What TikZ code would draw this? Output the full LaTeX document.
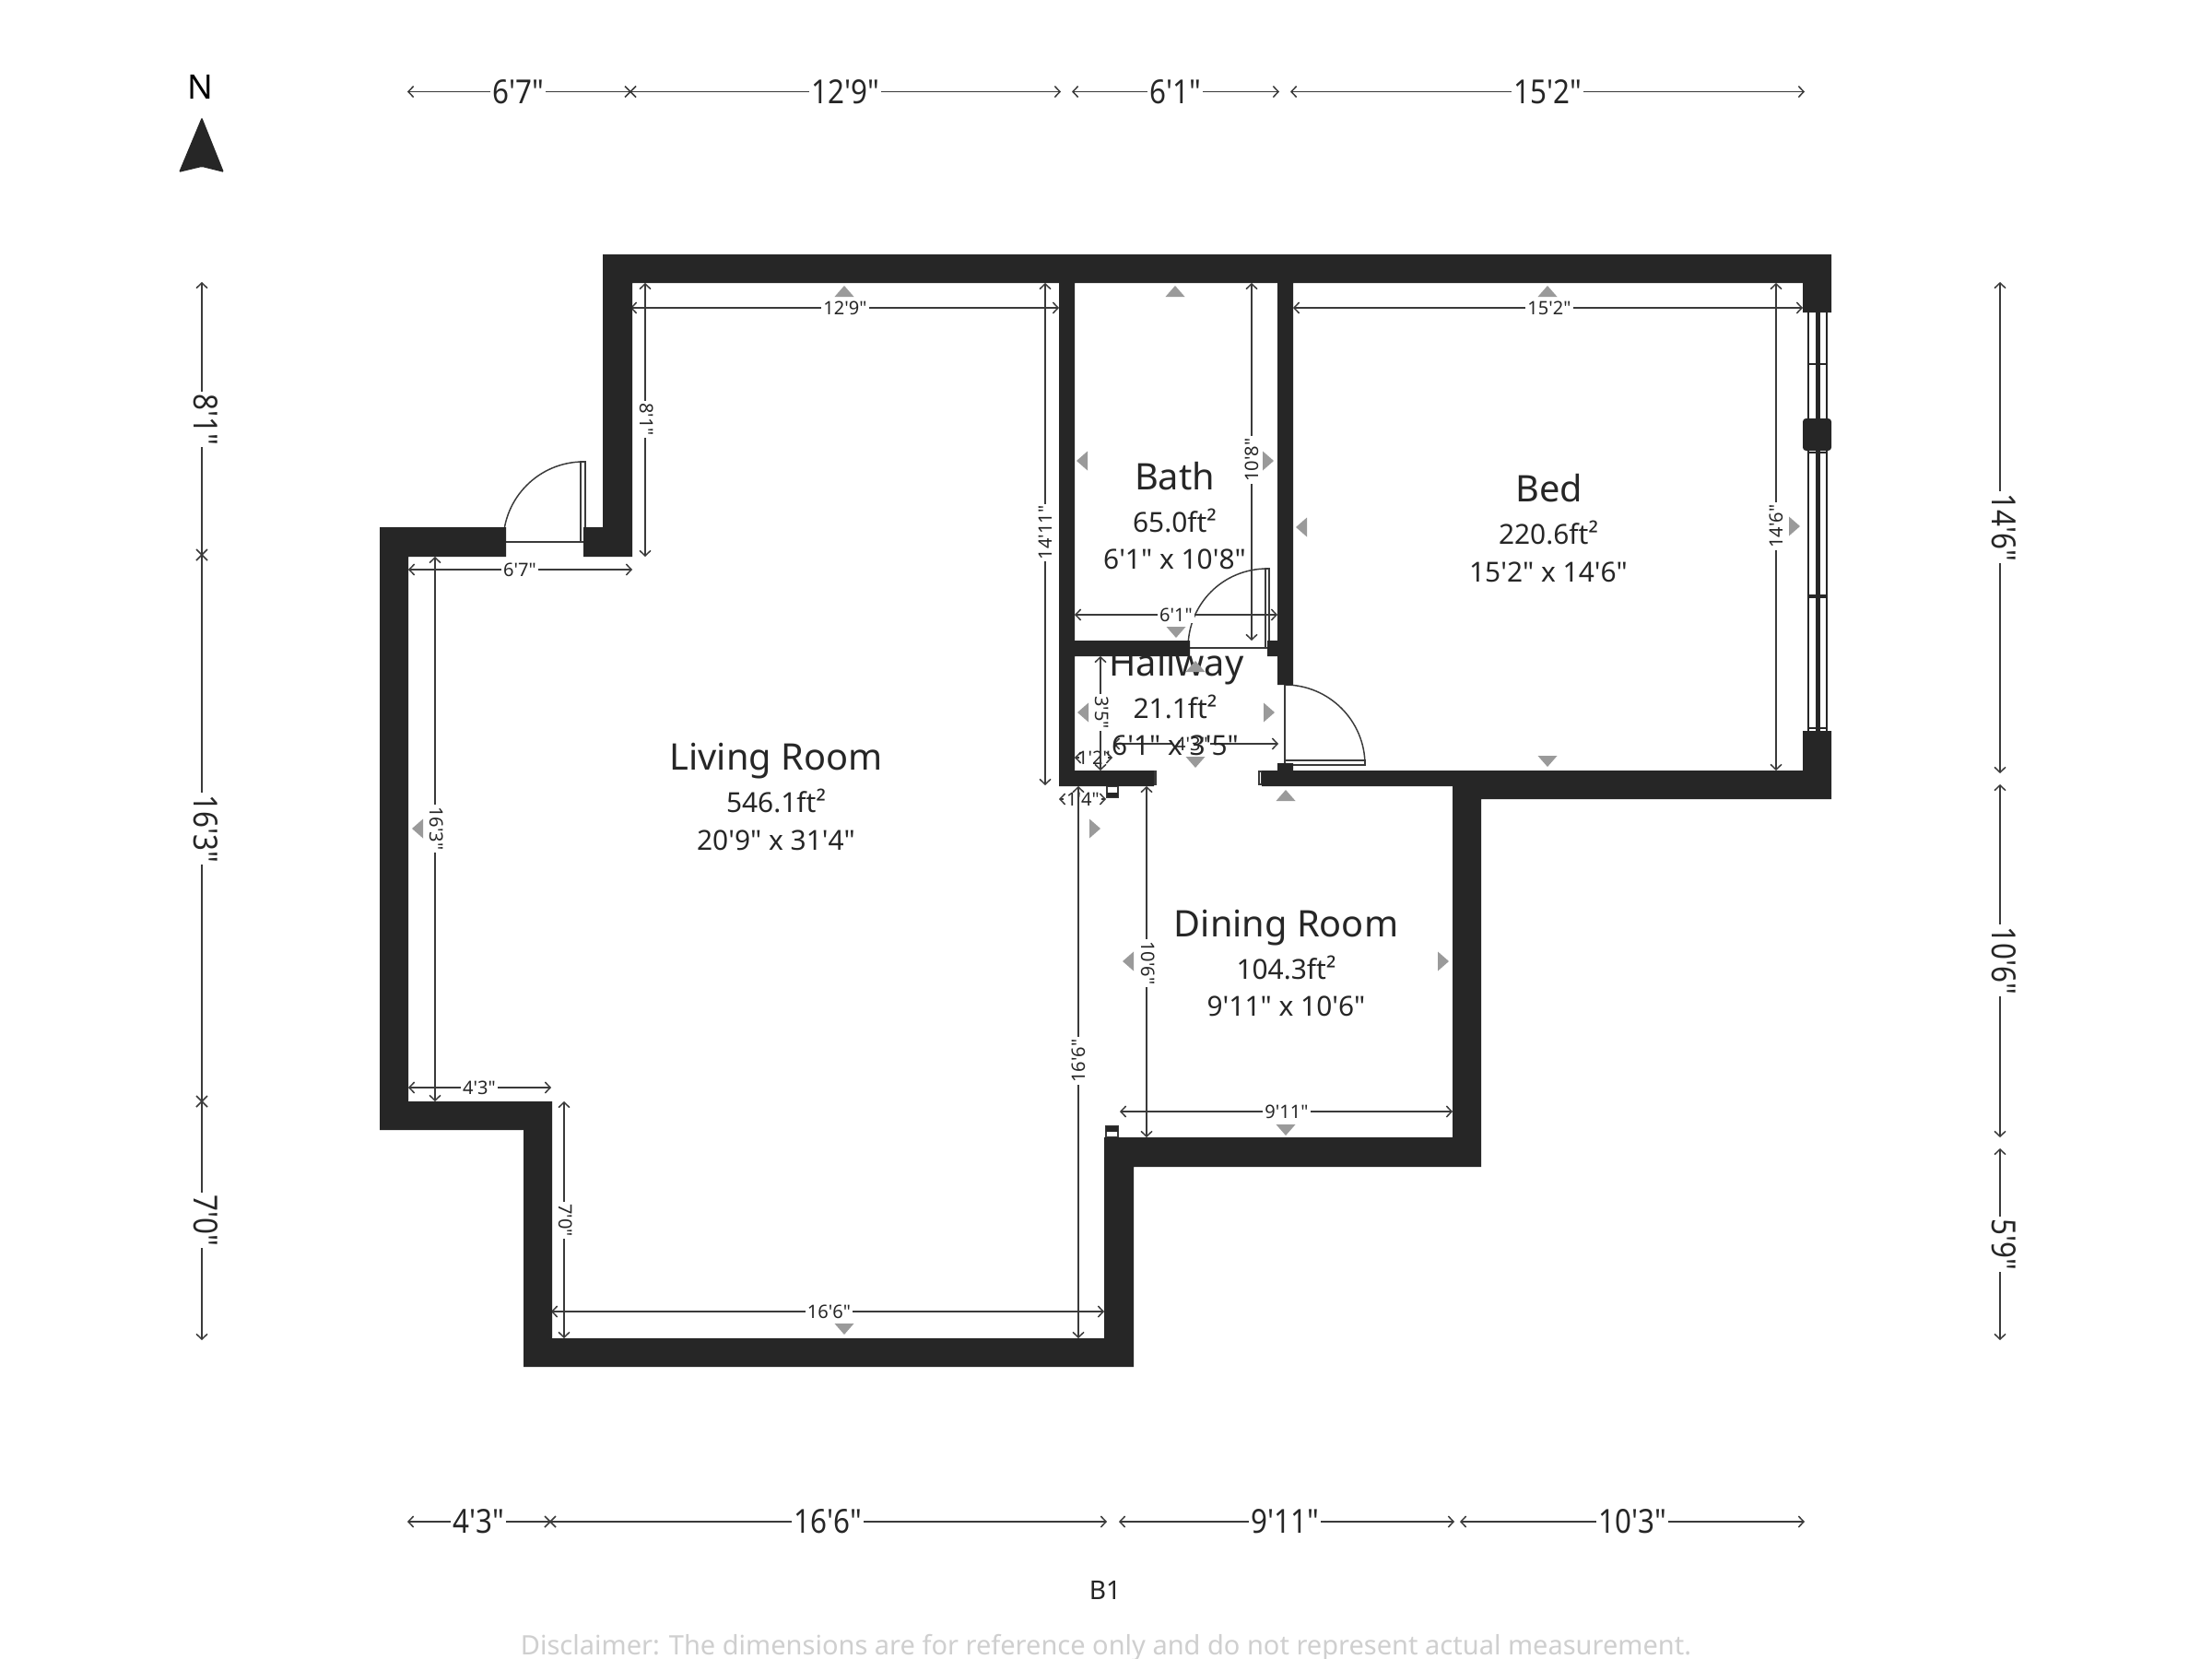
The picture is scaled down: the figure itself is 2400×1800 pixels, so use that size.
\documentclass[tikz,border=0pt]{standalone}
\usepackage{fontspec}
\newfontfamily\nsf{Noto Sans}
\newfontfamily\nsfn{Noto Sans}[FakeStretch=0.875]
\usetikzlibrary{arrows.meta}
\definecolor{wall}{HTML}{262626}
\definecolor{dimc}{HTML}{3A3A3A}
\definecolor{marker}{HTML}{9A9A9A}
\definecolor{note}{HTML}{CFCFCF}
% 1 unit = 1 px of the 2400x1800 reference; y grows downwards
\tikzset{
  x=0.01cm,y=-0.01cm,
  wallfill/.style={fill=wall,draw=none},
  dimline/.style={draw=dimc,line width=0.42pt},
  dimarrow/.style={dimline,{Straight Barb[length=1.6pt,width=3.4pt,line width=0.42pt]}-{Straight Barb[length=1.6pt,width=3.4pt,line width=0.42pt]}},
  dimleftonly/.style={dimline,{Straight Barb[length=1.6pt,width=3.4pt,line width=0.42pt]}-},
  dimrightonly/.style={dimline,-{Straight Barb[length=1.6pt,width=3.4pt,line width=0.42pt]}},
  biglabel/.style={fill=white,inner sep=0.5pt,text=wall,font=\nsfn\fontsize{10.2pt}{12pt}\selectfont},
  smalllabel/.style={fill=white,inner sep=0.6pt,text=wall,font=\nsf\fontsize{5.7pt}{7pt}\selectfont},
  roomname/.style={inner sep=0pt,text=wall,font=\nsf\fontsize{11.3pt}{14pt}\selectfont},
  roominfo/.style={inner sep=0pt,text=wall,font=\nsf\fontsize{8.5pt}{10pt}\selectfont},
  doorline/.style={draw=dimc,line width=0.42pt},
  viewmark/.style={fill=marker,draw=none},
}
% horizontal dimension: name, x1, x2, y, label x, label, style of label, style of line
\newcommand{\dimH}[8]{%
  \coordinate (#1a) at (#2,#4);\coordinate (#1b) at (#3,#4);
  \draw[#8] (#1a) -- (#1b);
  \node[#7] (#1) at (#5,#4) {#6};}
% short horizontal dimension: only the two tips show beside the label
\newcommand{\dimS}[6]{%
  \coordinate (#1a) at (#2,#4);\coordinate (#1b) at (#3,#4);
  \coordinate (#1c) at (#2+5,#4);\coordinate (#1d) at (#3-5,#4);
  \draw[dimleftonly] (#1a) -- (#1c);
  \draw[dimrightonly] (#1d) -- (#1b);
  \node[smalllabel,fill=none] (#1) at (#5,#4) {#6};}
% vertical dimension: name, x, y1, y2, label y, label, rotation, style of label, style of line
\newcommand{\dimV}[9]{%
  \coordinate (#1a) at (#2,#3);\coordinate (#1b) at (#2,#4);
  \draw[#9] (#1a) -- (#1b);
  \node[#8,rotate=#7] (#1) at (#2,#5) {#6};}
\newcommand{\crossat}[2]{\draw[dimline] (#1-6,#2-6) -- (#1+6,#2+6) (#1-6,#2+6) -- (#1+6,#2-6);}
\newcommand{\tup}[2]{\fill[viewmark] (#1,#2-6) -- (#1+10.5,#2+6) -- (#1-10.5,#2+6) -- cycle;}
\newcommand{\tdown}[2]{\fill[viewmark] (#1,#2+6) -- (#1+10.5,#2-6) -- (#1-10.5,#2-6) -- cycle;}
\newcommand{\tleft}[2]{\fill[viewmark] (#1-6,#2) -- (#1+6,#2-10.5) -- (#1+6,#2+10.5) -- cycle;}
\newcommand{\tright}[2]{\fill[viewmark] (#1+6,#2) -- (#1-6,#2-10.5) -- (#1-6,#2+10.5) -- cycle;}
\begin{document}
\begin{tikzpicture}
\useasboundingbox (0,0) rectangle (2400,1800);
\fill[white] (0,0) rectangle (2400,1800);

% doors
\draw[doorline] (546,588) .. controls (546,540) and (585,501) .. (633,501);
\draw[doorline] (549,588) -- (633,588);
\draw[doorline,fill=white] (630,501) rectangle (635,588);
\draw[doorline] (1289,703) .. controls (1289,655) and (1327,617) .. (1375,617);
\draw[doorline] (1291,703) -- (1375,703);
\draw[doorline,fill=white] (1373,617) rectangle (1377,703);
\draw[doorline] (1394,743) .. controls (1442,743) and (1481,782) .. (1481,830);
\draw[doorline] (1394,743) -- (1394,830);
\draw[doorline,fill=white] (1394,825) rectangle (1481,830);
% small jamb details
\draw[doorline,fill=white] (1201,853) rectangle (1213,865);
\fill[wall] (1201,860) rectangle (1213,865);
\draw[doorline,fill=white] (1200,1222) rectangle (1213,1234);
\fill[wall] (1200,1222) rectangle (1213,1228);
\draw[doorline] (1252,837) rectangle (1254,851);
\draw[doorline] (1366,837) rectangle (1369,851);

% window
\fill[wall] (1961,339) rectangle (1963.3,793);
\fill[wall] (1970,339) rectangle (1975.3,793);
\fill[wall] (1980.7,339) rectangle (1983.3,793);
\draw[wall,line width=0.42pt] (1962,395) -- (1982,395);
\fill[wall] (1962,645) rectangle (1982,649);
\draw[wall,line width=0.42pt] (1962,491) -- (1982,491);
\draw[wall,line width=0.42pt] (1962,790) -- (1982,790);

% dimension lines (inner)
\dimH{i1}{684}{1149}{334}{917}{12'9"}{smalllabel}{dimarrow}
\dimH{i2}{443}{686}{618}{564}{6'7"}{smalllabel}{dimarrow}
\dimH{i3}{443}{598}{1180}{520}{4'3"}{smalllabel}{dimarrow}
\dimH{i4}{598}{1198}{1423}{899.5}{16'6"}{smalllabel}{dimarrow}
\dimH{i5}{1215}{1576}{1206}{1396}{9'11"}{smalllabel}{dimarrow}
\dimH{i6}{1208}{1387}{807}{1293}{4'3"}{smalllabel}{dimarrow}
\dimH{i7}{1166}{1386}{667}{1276}{6'1"}{smalllabel}{dimarrow}
\dimH{i8}{1403}{1956}{334}{1681}{15'2"}{smalllabel}{dimarrow}
\dimS{i9}{1166}{1207}{822}{1187}{1'2"}
\dimS{i10}{1149}{1200}{867}{1175}{1'4"}
\dimV{v1}{700}{307}{604}{455}{8'1"}{-90}{smalllabel,xshift=2*0.01cm}{dimarrow}
\dimV{v2}{472}{604}{1195}{899}{16'3"}{-90}{smalllabel,xshift=2*0.01cm}{dimarrow}
\dimV{v3}{612}{1195}{1452}{1324}{7'0"}{-90}{smalllabel,xshift=2*0.01cm}{dimarrow}
\dimV{v4}{1170}{853}{1452}{1151}{16'6"}{90}{smalllabel}{dimarrow}
\dimV{v5}{1244}{853}{1234}{1045}{10'6"}{-90}{smalllabel,xshift=2*0.01cm}{dimarrow}
\dimV{v6}{1134}{307}{852}{578}{14'11"}{90}{smalllabel}{dimarrow}
\dimV{v7}{1358}{307}{695}{499}{10'8"}{90}{smalllabel}{dimarrow}
\dimV{v8}{1194}{712}{836}{773}{3'5"}{-90}{smalllabel,xshift=2*0.01cm}{dimarrow}
\dimV{v9}{1927}{307}{836}{571}{14'6"}{90}{smalllabel}{dimarrow}

% room labels
\node[roomname] (ln) at (842,826) {Living Room};
\node[roominfo] (la) at (842,869) {546.1ft²};
\node[roominfo] (ld) at (842,912) {20'9" x 31'4"};
\node[roomname] (bn) at (1274.5,517) {Bath};
\node[roominfo] (ba) at (1274.5,565) {65.0ft²};
\node[roominfo] (bd) at (1274.5,607) {6'1" x 10'8"};
\node[roomname] (en) at (1680.5,530) {Bed};
\node[roominfo] (ea) at (1680,578) {220.6ft²};
\node[roominfo] (ed) at (1680,621) {15'2" x 14'6"};
\node[roomname] (hn) at (1276.5,723) {Hallway};
\node[roominfo] (ha) at (1275,767) {21.1ft²};
\node[roominfo] (hd) at (1275,809) {6'1" x 3'5"};
\node[roomname] (dn) at (1395.5,1007) {Dining Room};
\node[roominfo] (da) at (1395.5,1050) {104.3ft²};
\node[roominfo] (dd) at (1395.5,1092) {9'11" x 10'6"};

% walls
\fill[wallfill]
  (654,276) rectangle (1987,307)
  (654,276) rectangle (686,604)
  (633,572) rectangle (686,604)
  (412,572) rectangle (549,604)
  (412,572) rectangle (443,1226)
  (412,1195) rectangle (599,1226)
  (568,1195) rectangle (599,1483)
  (568,1452) rectangle (1230,1483)
  (1198,1234) rectangle (1230,1483)
  (1198,1234) rectangle (1607,1266)
  (1576,836) rectangle (1607,1266)
  (1369,836) rectangle (1987,853)
  (1576,836) rectangle (1987,867)
  (1956,276) rectangle (1987,339)
  (1956,793) rectangle (1987,867)
  (1149,276) rectangle (1166,853)
  (1149,695) rectangle (1291,712)
  (1375,695) rectangle (1403,712)
  (1386,276) rectangle (1403,743)
  (1149,836) rectangle (1252,853)
  (1386,828) rectangle (1403,836);
\fill[wallfill,rounded corners=1pt] (1956,454) rectangle (1987,489);

% view markers
\tup{916}{316}\tdown{916}{1442}\tleft{453}{899}\tright{1188}{899}
\tup{1275}{316}\tdown{1276}{686}\tleft{1174}{500}\tright{1376}{500}
\tup{1679}{316}\tdown{1679}{826}\tleft{1412}{572}\tright{1947}{571}
\tup{1297}{723}\tdown{1297}{827}\tleft{1175}{773}\tright{1377}{773}
\tup{1395}{863}\tdown{1395}{1226}\tleft{1224}{1043}\tright{1566}{1043}

% outer dimensions: top
\dimH{t1}{442}{684}{99.5}{562}{6'7"}{biglabel}{dimleftonly}
\dimH{t2}{684}{1151}{99.5}{917}{12'9"}{biglabel}{dimrightonly}
\crossat{684}{99.5}
\dimH{t3}{1163}{1388}{99.5}{1275}{6'1"}{biglabel}{dimarrow}
\dimH{t4}{1400}{1958}{99.5}{1679}{15'2"}{biglabel}{dimarrow}
% bottom
\dimH{b1}{442}{597}{1651}{519}{4'3"}{biglabel}{dimleftonly}
\dimH{b2}{597}{1201}{1651}{898}{16'6"}{biglabel}{dimrightonly}
\crossat{597}{1651}
\dimH{b3}{1214}{1578}{1651}{1394}{9'11"}{biglabel}{dimarrow}
\dimH{b4}{1584}{1958}{1651}{1771}{10'3"}{biglabel}{dimarrow}
% left
\dimV{l1}{219}{306}{602}{455}{8'1"}{-90}{biglabel,xshift=4*0.01cm}{dimleftonly}
\dimV{l2}{219}{602}{1195}{899}{16'3"}{-90}{biglabel,xshift=4*0.01cm}{dimline}
\dimV{l3}{219}{1195}{1454}{1324}{7'0"}{-90}{biglabel,xshift=4*0.01cm}{dimrightonly}
\crossat{219}{602}\crossat{219}{1195}
% right
\dimV{r1}{2170}{306}{839}{572}{14'6"}{-90}{biglabel,xshift=4*0.01cm}{dimarrow}
\dimV{r2}{2170}{851}{1234}{1042}{10'6"}{-90}{biglabel,xshift=4*0.01cm}{dimarrow}
\dimV{r3}{2170}{1246}{1454}{1350}{5'9"}{-90}{biglabel,xshift=4*0.01cm}{dimarrow}

% north arrow
\node[inner sep=0pt,font=\nsf\fontsize{10.4pt}{12pt}\selectfont] (north) at (217.5,94) {N};
\fill[wall,rounded corners=0.4pt] (219,127) -- (243,187) -- (219,181) -- (194,187) -- cycle;

% floor name and note
\node[inner sep=0pt,font=\nsf\fontsize{8pt}{10pt}\selectfont,text=wall] (floor) at (1199,1725) {B1};
\node[inner sep=0pt,font=\nsf\fontsize{8.25pt}{10pt}\selectfont,text=note] (disc) at (1200,1788) {Disclaimer: The dimensions are for reference only and do not represent actual measurement.};
\end{tikzpicture}
\end{document}
